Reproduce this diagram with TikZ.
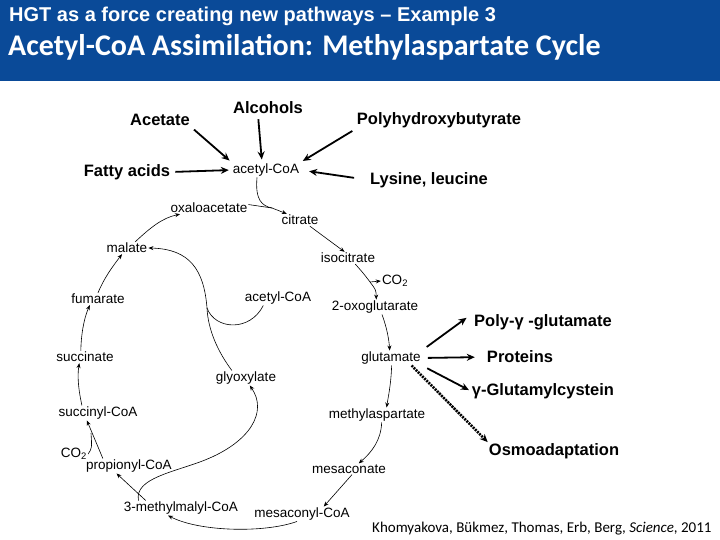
\documentclass[tikz,border=0pt]{standalone}
\usepackage{fontspec}
\setmainfont{Liberation Sans}
\newfontfamily\slidefont{Carlito}
\usetikzlibrary{arrows.meta}
\definecolor{slideblue}{RGB}{10,74,152}

\begin{document}
\begin{tikzpicture}[x=1pt, y=-1pt,
        met/.style={inner sep=1pt, font=\fontsize{13.5}{15}\selectfont},
        bigtag/.style={inner sep=1pt, font=\bfseries\fontsize{16.5}{19}\selectfont},
        flow/.style={-{Stealth[length=5pt,width=4pt]}, line width=0.6pt},
        joinline/.style={line width=0.6pt},
        feed/.style={-{Stealth[length=8pt,width=7pt]}, line width=1.8pt, shorten <=4pt, shorten >=3pt}]

        \useasboundingbox (0,0) rectangle (720,540);
        \fill[slideblue] (0,0) rectangle (720,81);

        \node[anchor=base west, inner sep=0pt, text=white, font=\bfseries\fontsize{20}{24}\selectfont] (kicker) at (9,22) {HGT as a force creating new pathways – Example 3};
        \node[anchor=base west, inner sep=0pt, text=white, font=\slidefont\bfseries\fontsize{30}{34}\selectfont] (title) at (8,56) {Acetyl-CoA Assimilation: Methylaspartate Cycle};

        \node[bigtag] (acetate) at (160,120) {Acetate};
        \node[bigtag] (alcohols) at (268,108) {Alcohols};
        \node[bigtag] (phb) at (439,120) {Polyhydroxybutyrate};
        \node[bigtag] (fatty) at (127,172) {Fatty acids};
        \node[bigtag] (lysine) at (429,180) {Lysine, leucine};

        \node[met] (acoa1) at (266,170) {acetyl-CoA};
        \node[met] (oxalo) at (209,208) {oxaloacetate};
        \node[met] (citrate) at (300,220) {citrate};
        \node[met] (malate) at (127,248) {malate};
        \node[met] (isocit) at (348,258) {isocitrate};
        \node[met] (co2a) at (395,281) {CO\textsubscript{2}};
        \node[met] (fumar) at (98,299) {fumarate};
        \node[met] (acoa2) at (278,298) {acetyl-CoA};
        \node[met] (oxoglu) at (375,307) {2-oxoglutarate};
        \node[met] (succ) at (85,357) {succinate};
        \node[met] (glut) at (391,358) {glutamate};
        \node[met] (glyox) at (246,378) {glyoxylate};
        \node[met] (succoa) at (98,413) {succinyl-CoA};
        \node[met] (methasp) at (377,415) {methylaspartate};
        \node[met] (co2b) at (74,454) {CO\textsubscript{2}};
        \node[met] (propcoa) at (129,466) {propionyl-CoA};
        \node[met] (mesac) at (349,469) {mesaconate};
        \node[met] (mmcoa) at (181,508) {3-methylmalyl-CoA};
        \node[met] (mescoa) at (302,514) {mesaconyl-CoA};

        \node[bigtag] (poly) at (543,322) {Poly-γ -glutamate};
        \node[bigtag] (proteins) at (520,357) {Proteins};
        \node[bigtag] (gamma) at (543,391) {γ-Glutamylcystein};
        \node[bigtag] (osmo) at (554,451) {Osmoadaptation};

        \node[anchor=base west, inner sep=0pt, font=\slidefont\fontsize{15}{17}\selectfont] (cite) at (372,532) {Khomyakova, Bükmez, Thomas, Erb, Berg, \textit{Science}, 2011};

        % feeding acetyl-CoA
        \draw[feed] (acetate.south east) -- (acoa1.north west);
        \draw[feed] ([xshift=-10pt]alcohols.south) -- ([xshift=-4pt]acoa1.north);
        \draw[feed] (phb.south west) -- (acoa1.north east);
        \draw[feed] (fatty.east) -- (acoa1.west);
        \draw[feed, shorten <=15pt, shorten >=9pt] (lysine.west) -- (acoa1.east);

        % the cycle
        \coordinate (m1) at (272,208);
        \draw[joinline] ([xshift=-9pt]acoa1.south) .. controls (255,200) and (262,206) .. (m1);
        \draw[joinline] (oxalo.5) -- (m1);
        \draw[flow] (m1) -- (citrate.155);
        \draw[flow] (citrate.-32) -- (isocit.119);

        \coordinate (m2) at (370,282);
        \draw[joinline] (isocit.-40) .. controls (364,274) .. (m2);
        \draw[flow] (m2) .. controls (376,290) .. (oxoglu.80);
        \draw[flow] (m2) -- (co2a.west);

        \draw[flow] (oxoglu.-47) .. controls (387,328) and (389,340) .. (glut.100);
        \draw[flow] (glut.-85) .. controls (391,385) and (388,398) .. (methasp.38);
        \draw[flow] (methasp.-58) .. controls (381,440) and (372,452) .. (mesac.30);
        \draw[flow] (mesac.-62) -- (mescoa.19);
        \draw[flow] (mescoa.-124) .. controls (265,533) and (200,532) .. (mmcoa.-150);

        \draw[flow] (mmcoa.170) .. controls (134,478) and (175,472) .. (205,460) .. controls (250,442) and (268,412) .. (glyox.-63);
        \draw[flow] (mmcoa.168) -- (propcoa.-149);

        \coordinate (m3) at (91,433);
        \draw[flow] (propcoa.164) -- (succoa.-146);
        \draw[joinline] (co2b.east) .. controls (92,448) .. (m3);

        \draw[flow] (succoa.155) .. controls (79,392) and (77,378) .. (succ.-133);
        \draw[flow] (succ.124) .. controls (81,335) and (84,318) .. (fumar.-143);
        \draw[flow] (fumar.north) .. controls (104,278) and (113,266) .. (malate.-129);
        \draw[flow] (malate.37) .. controls (150,228) and (162,218) .. (oxalo.-168);

        \coordinate (m4) at (207,308);
        \draw[joinline] (glyox.152) .. controls (218,352) and (208,330) .. (m4);
        \draw[joinline] (acoa2.-153) .. controls (250,332) and (215,330) .. (m4);
        \draw[flow] (m4) .. controls (204,270) and (190,249) .. (malate.east);

        % fates of glutamate
        \draw[feed, shorten <=6pt, shorten >=8pt] (glut.north east) -- (poly.north west);
        \draw[feed, shorten <=6pt, shorten >=11pt] (glut.east) -- (proteins.west);
        \draw[feed, shorten <=6pt, shorten >=2pt] (glut.south east) -- (gamma.west);
        \draw[feed, line width=2.6pt, dash pattern=on 2pt off 1pt, shorten <=0pt, shorten >=0pt] (glut.-20) -- (osmo.north west);

\end{tikzpicture}
\end{document}
